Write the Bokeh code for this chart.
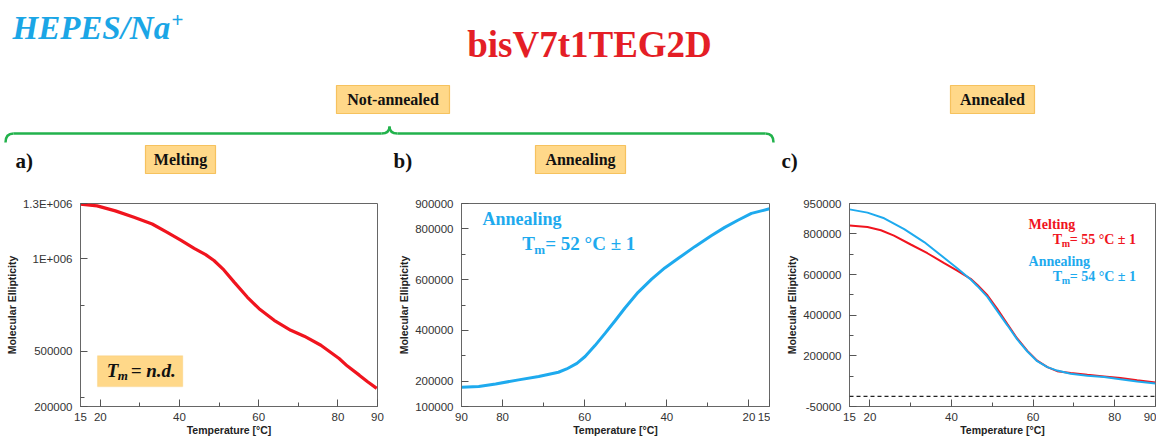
from bokeh.plotting import figure
from bokeh.layouts import column, row
from bokeh.models import Range1d, FixedTicker, Span, BoxAnnotation
from bokeh.core.properties import value
from bokeh.embed import file_html
from bokeh.resources import INLINE

# ---------------- data ----------------
# a) Not-annealed, melting
temp_a = [15.0, 19.2, 23.8, 28.5, 33.1, 36.9, 40.3, 43.7, 46.6, 48.7, 51.2, 53.8,
          57.1, 60.1, 63.9, 68.1, 71.5, 75.7, 80.3, 82.4, 85.4, 87.5, 89.8]
ell_a = [1296000, 1287000, 1260000, 1225000, 1189000, 1144000, 1102000, 1057000,
         1023000, 991000, 940000, 874000, 793000, 730000, 667000, 613000, 581000,
         532000, 460000, 419000, 370000, 334000, 298000]

# b) Not-annealed, annealing (cooling 90 -> 15)
temp_b = [90, 85.8, 81.7, 76.1, 71.2, 66.4, 64.4, 61.9, 59.9, 57.5, 55.0, 52.6,
          50.2, 47.0, 43.7, 40.5, 37.2, 33.2, 29.2, 25.9, 22.7, 19.4, 17.0, 15]
ell_b = [176000, 179000, 189000, 205000, 218000, 235000, 248000, 270000, 297000,
         340000, 389000, 438000, 488000, 550000, 602000, 646000, 684000, 730000,
         773000, 806000, 834000, 861000, 871000, 879000]

# c) Annealed: melting (red) and annealing (cyan)
temp_c_melt = [15, 19.4, 22.7, 25.9, 30.0, 34.1, 38.2, 41.4, 44.7, 46.3, 48.8, 51.2,
               53.7, 56.1, 58.6, 61.0, 63.5, 65.9, 69.2, 73.3, 77.4, 81.4, 85.5, 90]
ell_c_melt = [842000, 834000, 818000, 792000, 748000, 705000, 656000, 619000, 579000,
              550000, 498000, 431000, 356000, 285000, 224000, 176000, 144000, 124000,
              115000, 106000, 98000, 90000, 79000, 68000]
temp_c_ann = [15, 19.4, 23.5, 28.4, 33.3, 37.4, 41.4, 44.7, 46.3, 48.8, 51.2, 53.7,
              56.1, 58.6, 61.0, 63.5, 65.9, 69.2, 73.3, 77.4, 81.4, 85.5, 90]
ell_c_ann = [921000, 905000, 877000, 824000, 760000, 695000, 631000, 576000, 544000,
             490000, 421000, 350000, 281000, 221000, 173000, 144000, 127000, 111000,
             102000, 95000, 84000, 73000, 63000]

# tick labels
xticks_major_fwd = [15, 20, 40, 60, 80, 90]
xticks_minor_fwd = [30, 50, 70]
xticks_major_rev = [90, 80, 60, 40, 20, 15]
xticks_minor_rev = [70, 50, 30]
yticks_a = [200000, 500000, 1000000, 1300000]
ylabels_a = ["200000", "500000", "1E+006", "1.3E+006"]
yminor_a = [250000, 750000]
yticks_b = [100000, 200000, 400000, 600000, 800000, 900000]
ylabels_b = ["100000", "200000", "400000", "600000", "800000", "900000"]
yminor_b = [300000, 500000, 700000]
yticks_c = [-50000, 200000, 400000, 600000, 800000, 950000]
ylabels_c = ["-50000", "200000", "400000", "600000", "800000", "950000"]
yminor_c = [100000, 300000, 500000, 700000]

RED = "#F0141E"
CYAN = "#1EAAEE"
SERIF = value("Liberation Serif")
SANS = "Liberation Sans"
BOX_FILL = "#FFD889"
BOX_LINE = "#F6C25E"
GREEN = "#22B24C"

# ---------------- header ----------------
hdr = figure(width=1156, height=180, x_range=Range1d(0, 1156), y_range=Range1d(180, 0),
             x_axis_type=None, y_axis_type=None, toolbar_location=None,
             output_backend="svg", min_border=0, outline_line_color=None)
hdr.grid.visible = False

hdr.text(x=[12], y=[27], text=["HEPES/Na"], text_font=SERIF, text_font_style="bold italic",
         text_font_size="33px", text_color="#1BA6E6", text_baseline="middle")
hdr.text(x=[171], y=[19], text=["+"], text_font=SERIF, text_font_style="bold",
         text_font_size="21px", text_color="#1BA6E6", text_baseline="middle")
hdr.text(x=[589], y=[44], text=["bisV7t1TEG2D"], text_font=SERIF, text_font_style="bold",
         text_font_size="37px", text_color="#E41E26", text_align="center",
         text_baseline="middle")

boxes = [("Not-annealed", 336, 449, 85, 113), ("Annealed", 950, 1034, 85, 113),
         ("Melting", 145, 215, 145, 173), ("Annealing", 535, 625, 145, 173)]
hdr.quad(left=[b[1] for b in boxes], right=[b[2] for b in boxes],
         top=[b[3] for b in boxes], bottom=[b[4] for b in boxes],
         fill_color=BOX_FILL, line_color=BOX_LINE, line_width=1.2)
hdr.text(x=[(b[1] + b[2]) / 2 for b in boxes], y=[(b[3] + b[4]) / 2 for b in boxes],
         text=[b[0] for b in boxes], text_font=SERIF, text_font_style="bold",
         text_font_size="16px", text_color="#111111", text_align="center",
         text_baseline="middle")

hdr.text(x=[15, 393, 781], y=[160, 160, 160], text=["a)", "b)", "c)"], text_font=SERIF,
         text_font_style="bold", text_font_size="21px", text_color="#111111",
         text_baseline="middle")

# brace
hdr.segment(x0=[13, 397], y0=[133, 133], x1=[381, 765], y1=[133, 133],
            line_color=GREEN, line_width=2.5)
hdr.quadratic(x0=[5, 381, 389, 765], y0=[142, 133, 126, 133],
              x1=[13, 389, 397, 773], y1=[133, 126, 133, 142],
              cx=[5, 389, 389, 773], cy=[133, 133, 133, 133],
              line_color=GREEN, line_width=2.5)


# ---------------- panels ----------------
def make_panel(width, height, xr, yr, left, right, top, bottom,
               xmaj, xmin, ymaj, ylab, ymin):
    p = figure(width=width, height=height, x_range=xr, y_range=yr,
               toolbar_location=None, output_backend="svg",
               min_border_left=left, min_border_right=right,
               min_border_top=top, min_border_bottom=bottom,
               outline_line_color="#666666", outline_line_width=1,
               background_fill_color="white", border_fill_color="white")
    p.grid.visible = False
    p.xaxis.ticker = FixedTicker(ticks=xmaj, minor_ticks=xmin)
    p.yaxis.ticker = FixedTicker(ticks=ymaj, minor_ticks=ymin)
    p.yaxis.major_label_overrides = {v: l for v, l in zip(ymaj, ylab)}
    p.xaxis.major_label_overrides = {v: str(v) for v in xmaj}
    for ax in (p.xaxis[0], p.yaxis[0]):
        ax.axis_line_color = "#666666"
        ax.major_tick_line_color = "#555555"
        ax.minor_tick_line_color = "#555555"
        ax.major_tick_in = 7
        ax.major_tick_out = 0
        ax.minor_tick_in = 4
        ax.minor_tick_out = 0
        ax.major_label_text_font = SANS
        ax.major_label_text_font_size = "11.5px"
        ax.major_label_text_color = "#333333"
        ax.axis_label_text_font = SANS
        ax.axis_label_text_font_style = "bold"
        ax.axis_label_text_font_size = "10.5px"
        ax.axis_label_text_color = "#222222"
        ax.axis_label_standoff = 2
    p.xaxis.major_label_standoff = 6
    p.yaxis.major_label_standoff = 8
    p.xaxis.axis_label = "Temperature [°C]"
    p.yaxis.axis_label = "Molecular Ellipticity"
    p.xaxis.axis_label_standoff = 0
    return p


# a)
pa = make_panel(385, 259, Range1d(15, 90), Range1d(200000, 1300000), 80, 8, 22, 32,
                xticks_major_fwd, xticks_minor_fwd, yticks_a, ylabels_a, yminor_a)
pa.line(temp_a, ell_a, line_color=RED, line_width=3.2)
pa.add_layout(BoxAnnotation(left=19.3, right=40.8, bottom=308000, top=475000,
                            fill_color=BOX_FILL, fill_alpha=1.0,
                            line_color=BOX_LINE, line_width=1.2, level="underlay"))
pa.text(x=[21.6, 21.6, 21.6], y=[394000] * 3, text=["T", "m", "= n.d."],
        x_offset=[0, 11, 24], y_offset=[0, 5, 0],
        text_font=SERIF, text_font_style="bold italic",
        text_font_size=["19px", "13px", "19px"], text_color="#111111",
        text_baseline="middle")

# b)
pb = make_panel(385, 259, Range1d(90, 15), Range1d(100000, 900000), 76, 1, 22, 33,
                xticks_major_rev, xticks_minor_rev, yticks_b, ylabels_b, yminor_b)
pb.line(temp_b, ell_b, line_color=CYAN, line_width=3)
pb.text(x=[84.9], y=[837000], text=["Annealing"], text_font=SERIF,
        text_font_style="bold", text_font_size="18px", text_color=CYAN,
        text_baseline="middle")
pb.text(x=[75.2] * 3, y=[744000] * 3, text=["T", "m", "= 52 °C ± 1"],
        x_offset=[0, 12, 23], y_offset=[0, 6, 0], text_font=SERIF,
        text_font_style="bold", text_font_size=["19px", "13px", "19px"],
        text_color=CYAN, text_baseline="middle")

# c)
pc = make_panel(386, 259, Range1d(15, 90), Range1d(-50000, 950000), 79, 1, 23, 30,
                xticks_major_fwd, xticks_minor_fwd, yticks_c, ylabels_c, yminor_c)
pc.add_layout(Span(location=0, dimension="width", line_color="#222222",
                   line_dash="4 3", line_width=1.2))
pc.line(temp_c_melt, ell_c_melt, line_color=RED, line_width=2)
pc.line(temp_c_ann, ell_c_ann, line_color=CYAN, line_width=2)
pc.text(x=[58.9], y=[845000], text=["Melting"], text_font=SERIF, text_font_style="bold",
        text_font_size="14px", text_color=RED, text_baseline="middle")
pc.text(x=[64.8] * 3, y=[773000] * 3, text=["T", "m", "= 55 °C ± 1"],
        x_offset=[0, 9, 17], y_offset=[0, 4, 0], text_font=SERIF,
        text_font_style="bold", text_font_size=["14px", "10px", "14px"],
        text_color=RED, text_baseline="middle")
pc.text(x=[58.9], y=[665000], text=["Annealing"], text_font=SERIF,
        text_font_style="bold", text_font_size="14px", text_color=CYAN,
        text_baseline="middle")
pc.text(x=[64.8] * 3, y=[592000] * 3, text=["T", "m", "= 54 °C ± 1"],
        x_offset=[0, 9, 17], y_offset=[0, 4, 0], text_font=SERIF,
        text_font_style="bold", text_font_size=["14px", "10px", "14px"],
        text_color=CYAN, text_baseline="middle")

layout = column(hdr, row(pa, pb, pc, spacing=0), spacing=0)
open("out.html", "w").write(file_html(layout, INLINE))
